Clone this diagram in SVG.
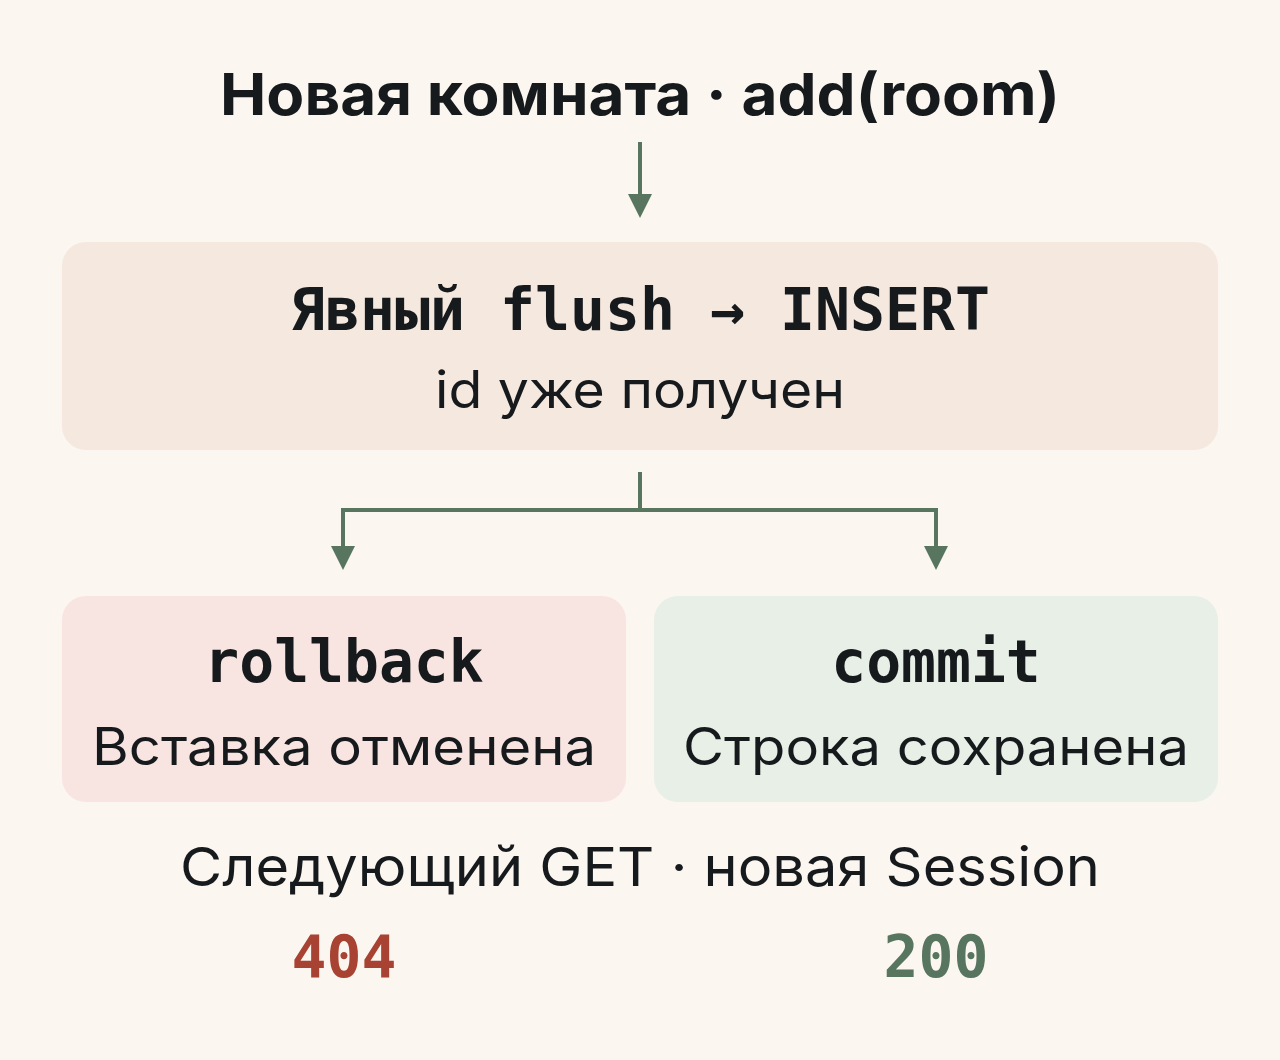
<svg xmlns="http://www.w3.org/2000/svg" width="1280" height="1060" viewBox="0 0 1280 1060">
<style>
.sans{font-family:Inter,"Liberation Sans",Arial,sans-serif;fill:#161a1d}
.mono{font-family:"DejaVu Sans Mono","Liberation Mono",monospace;font-weight:bold;fill:#161a1d}
.ln{stroke:#587560;stroke-width:4;fill:none}
</style>
<rect width="1280" height="1060" fill="#fbf6f0"/>
<g id="title"><text class="sans" x="640" y="115" font-size="58" font-weight="bold" text-anchor="middle" textLength="840" lengthAdjust="spacingAndGlyphs">Новая комната · add(room)</text></g>
<g id="connectors">
<path class="ln" d="M640 142V200"/>
<path d="M628 194L640 218L652 194Z" fill="#587560"/>
<path class="ln" d="M640 472V510M343 510H936M343 508V552M936 508V552"/>
<path d="M331 546L343 570L355 546Z" fill="#587560"/>
<path d="M924 546L936 570L948 546Z" fill="#587560"/>
</g>
<g id="flush">
<rect x="62" y="242" width="1156" height="208" rx="24" fill="#f5e8de"/>
<text class="mono" x="640" y="330" font-size="58" text-anchor="middle" textLength="700" lengthAdjust="spacingAndGlyphs">Явный flush → INSERT</text>
<text class="sans" x="640" y="408" font-size="52" text-anchor="middle" textLength="410" lengthAdjust="spacingAndGlyphs">id уже получен</text>
</g>
<g id="rollback">
<rect x="62" y="596" width="564" height="206" rx="24" fill="#f8e5e1"/>
<text class="mono" x="344" y="682" font-size="58" text-anchor="middle">rollback</text>
<text class="sans" x="344" y="765" font-size="52" text-anchor="middle" textLength="504" lengthAdjust="spacingAndGlyphs">Вставка отменена</text>
</g>
<g id="commit">
<rect x="654" y="596" width="564" height="206" rx="24" fill="#e7efe6"/>
<text class="mono" x="936" y="682" font-size="58" text-anchor="middle">commit</text>
<text class="sans" x="936" y="765" font-size="52" text-anchor="middle" textLength="506" lengthAdjust="spacingAndGlyphs">Строка сохранена</text>
</g>
<g id="result">
<text class="sans" x="640" y="886" font-size="54" text-anchor="middle" textLength="920" lengthAdjust="spacingAndGlyphs">Следующий GET · новая Session</text>
<text class="mono" x="344" y="977" font-size="58" text-anchor="middle" style="fill:#a84232">404</text>
<text class="mono" x="936" y="977" font-size="58" text-anchor="middle" style="fill:#587560">200</text>
</g>
</svg>
